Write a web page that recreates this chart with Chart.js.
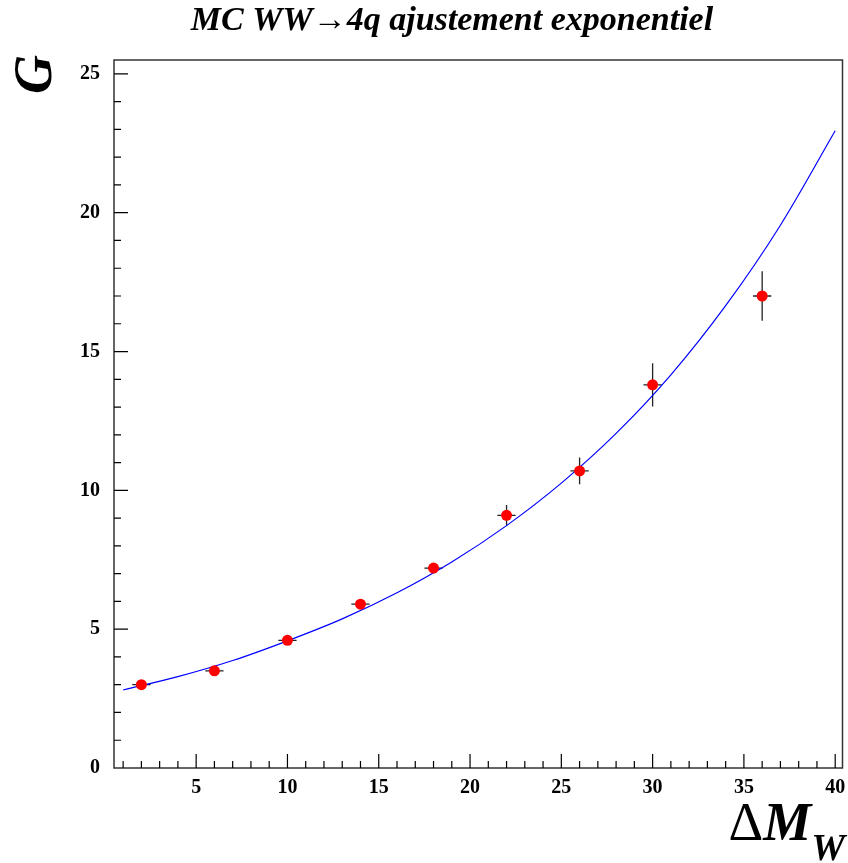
<!DOCTYPE html>
<html>
<head>
<meta charset="utf-8">
<script src="https://cdn.jsdelivr.net/npm/chart.js@4"></script>
<style>
html,body{margin:0;padding:0;background:#fff;}
</style>
</head>
<body>
<canvas id="myChart" width="848" height="863"></canvas>
<script>
// measured points (Delta M_W, G) with errors
const massDiff = [2, 6, 10, 14, 18, 22, 26, 30, 36];
const gValue = [3.0, 3.5, 4.6, 5.9, 7.2, 9.1, 10.7, 13.8, 17.0];
const gError = [0.06, 0.08, 0.10, 0.12, 0.15, 0.37, 0.48, 0.78, 0.89];
const massError = [0.5, 0.5, 0.5, 0.5, 0.5, 0.5, 0.5, 0.5, 0.5];
// exponential fit curve
const fitX = [1, 4, 7, 10, 13, 16, 19, 22, 25, 28, 31, 34, 37, 40];
const fitY = [2.81, 3.29, 3.87, 4.58, 5.37, 6.31, 7.42, 8.73, 10.26, 12.05, 14.16, 16.65, 19.55, 22.95];
const xTicks = [5, 10, 15, 20, 25, 30, 35, 40];
const yTicks = [0, 5, 10, 15, 20, 25];

const titleText = 'MC WW\u21924q ajustement exponentiel';
const serif = '"Liberation Serif", "Times New Roman", serif';

const rootStyle = {
  id: 'rootStyle',
  beforeDatasetsDraw(chart) {
    const ctx = chart.ctx, xs = chart.scales.x, ys = chart.scales.y;
    ctx.save();
    ctx.strokeStyle = '#222';
    ctx.lineWidth = 1.3;
    massDiff.forEach((m, i) => {
      const px = xs.getPixelForValue(m), py = ys.getPixelForValue(gValue[i]);
      ctx.beginPath();
      ctx.moveTo(xs.getPixelForValue(m - massError[i]), py);
      ctx.lineTo(xs.getPixelForValue(m + massError[i]), py);
      ctx.moveTo(px, ys.getPixelForValue(gValue[i] - gError[i]));
      ctx.lineTo(px, ys.getPixelForValue(gValue[i] + gError[i]));
      ctx.stroke();
    });
    ctx.restore();
  },
  afterDraw(chart) {
    const ctx = chart.ctx, xs = chart.scales.x, ys = chart.scales.y;
    const a = chart.chartArea;
    ctx.save();
    // frame
    ctx.strokeStyle = '#333';
    ctx.lineWidth = 1.5;
    ctx.strokeRect(a.left, a.top, a.right - a.left, a.bottom - a.top);
    // ticks, inside the frame
    ctx.strokeStyle = '#000';
    ctx.lineWidth = 1.2;
    ctx.beginPath();
    for (let v = 1; v <= 40; v++) {
      const px = xs.getPixelForValue(v);
      const len = v % 5 === 0 ? 14 : 7;
      ctx.moveTo(px, a.bottom);
      ctx.lineTo(px, a.bottom - len);
    }
    for (let v = 1; v <= 25; v++) {
      const py = ys.getPixelForValue(v);
      const len = v % 5 === 0 ? 14 : 7;
      ctx.moveTo(a.left, py);
      ctx.lineTo(a.left + len, py);
    }
    ctx.stroke();

    ctx.fillStyle = '#000';
    // title
    ctx.font = 'italic bold 34px ' + serif;
    ctx.textAlign = 'center';
    ctx.textBaseline = 'alphabetic';
    ctx.fillText(titleText, 452, 30);

    // y title, rotated
    ctx.save();
    ctx.translate(51, 55);
    ctx.rotate(-Math.PI / 2);
    ctx.textAlign = 'right';
    ctx.font = 'italic bold 54px ' + serif;
    ctx.fillText('G', 0, 0);
    ctx.restore();

    // x title: Delta M_W
    ctx.textAlign = 'left';
    const fD = '54px ' + serif, fM = 'italic bold 54px ' + serif, fW = 'italic bold 38px ' + serif;
    ctx.font = fD; const wD = ctx.measureText('\u0394').width;
    ctx.font = fM; const wM = ctx.measureText('M').width;
    ctx.font = fW; const wW = ctx.measureText('W').width;
    let x0 = 845 - (wD + wM + wW);
    ctx.font = fD; ctx.fillText('\u0394', x0, 840);
    ctx.font = fM; ctx.fillText('M', x0 + wD, 840);
    ctx.font = fW; ctx.fillText('W', x0 + wD + wM, 860);
    ctx.restore();
  }
};

const tickFont = { family: serif, weight: 'bold', size: 20 };

new Chart('myChart', {
  type: 'scatter',
  data: {
    datasets: [{
      data: massDiff.map((m, i) => ({ x: m, y: gValue[i] })),
      backgroundColor: '#ff0000',
      borderWidth: 0,
      pointRadius: 5.5,
      showLine: false
    }, {
      data: fitX.map((m, i) => ({ x: m, y: fitY[i] })),
      showLine: true,
      borderColor: '#0000ff',
      borderWidth: 1.2,
      pointRadius: 0,
      cubicInterpolationMode: 'monotone'
    }]
  },
  options: {
    responsive: false,
    animation: false,
    layout: { padding: { top: 60, right: 4, left: 0, bottom: 0 } },
    plugins: { legend: { display: false }, tooltip: { enabled: false } },
    scales: {
      x: {
        type: 'linear', min: 0.5, max: 40.4,
        grid: { display: false, drawTicks: false },
        border: { display: false },
        afterBuildTicks: s => { s.ticks = xTicks.map(v => ({ value: v })); },
        afterFit: s => { s.height = 95; s.paddingLeft = 0; s.paddingRight = 0; },
        ticks: { font: tickFont, color: '#000', padding: 8, maxRotation: 0, autoSkip: false }
      },
      y: {
        type: 'linear', min: 0, max: 25.5,
        grid: { display: false, drawTicks: false },
        border: { display: false },
        afterBuildTicks: s => { s.ticks = yTicks.map(v => ({ value: v })); },
        afterFit: s => { s.width = 114; s.paddingTop = 0; s.paddingBottom = 0; },
        ticks: { font: tickFont, color: '#000', padding: 14, autoSkip: false }
      }
    }
  },
  plugins: [rootStyle]
});
</script>
</body>
</html>
